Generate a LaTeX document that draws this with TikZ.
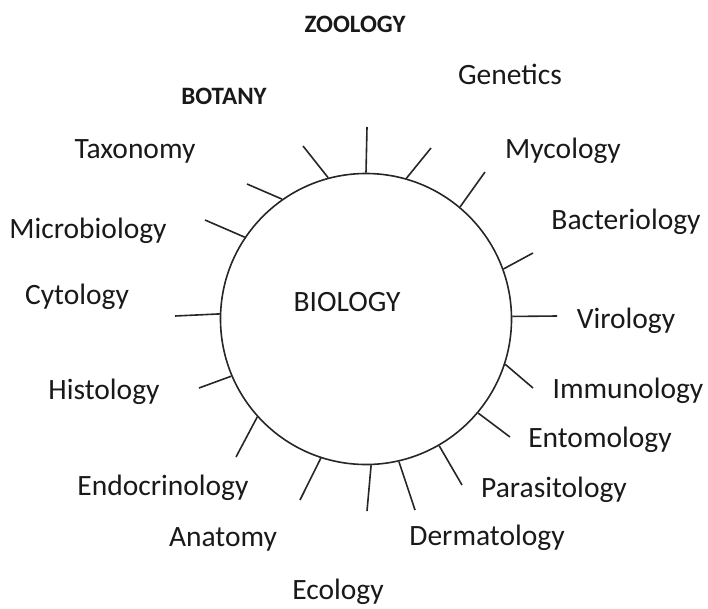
\documentclass[tikz,border=0pt]{standalone}
\usepackage{fontspec}
\setmainfont{Carlito}
\begin{document}
\begin{tikzpicture}[x=1pt,y=-1pt,
  lbl/.style={inner sep=0pt,font=\fontsize{29.5}{32}\selectfont,text=black!90},
  hdr/.style={inner sep=0pt,font=\fontsize{25}{28}\selectfont\bfseries,text=black!90},
  tick/.style={line width=1.6pt,black!85}]
\useasboundingbox (0,0) rectangle (708,608);
\node[circle,draw,line width=1.6pt,black!85,minimum size=291pt,inner sep=0pt] (bio) at (366,319) {};
\node[lbl] (biot) at (347,302) {BIOLOGY};
% outer ends of ticks
\coordinate (t1) at (367,127);
\coordinate (t2) at (431,148);
\coordinate (t3) at (485,172);
\coordinate (t4) at (533,253);
\coordinate (t5) at (557,316);
\coordinate (t6) at (533,388);
\coordinate (t7) at (510,437);
\coordinate (t8) at (462,485);
\coordinate (t9) at (415,510);
\coordinate (t10) at (367,511);
\coordinate (t11) at (300,500);
\coordinate (t12) at (236,457);
\coordinate (t13) at (199,388);
\coordinate (t14) at (175,316);
\coordinate (t15) at (205,220);
\coordinate (t16) at (247,184);
\coordinate (t17) at (303,146);
\draw[tick] (bio.90) -- (t1);
\draw[tick] (bio.74.2) -- (t2);
\draw[tick] (bio.50.6) -- (t3);
\draw[tick] (bio.20.5) -- (t4);
\draw[tick] (bio.1.2) -- (t5);
\draw[tick] (bio.-18.6) -- (t6);
\draw[tick] (bio.-40) -- (t7);
\draw[tick] (bio.-60.8) -- (t8);
\draw[tick] (bio.-77.5) -- (t9);
\draw[tick] (bio.-88.8) -- (t10);
\draw[tick] (bio.-108.4) -- (t11);
\draw[tick] (bio.-138.3) -- (t12);
\draw[tick] (bio.-157.2) -- (t13);
\draw[tick] (bio.178.8) -- (t14);
\draw[tick] (bio.146) -- (t15);
\draw[tick] (bio.125.5) -- (t16);
\draw[tick] (bio.105) -- (t17);
% labels
\node[hdr] (zoo) at (355,24) {ZOOLOGY};
\node[hdr] (bot) at (224,96) {BOTANY};
\node[lbl] (gen) at (510,74) {Genetics};
\node[lbl] (tax) at (135,151) {Taxonomy};
\node[lbl] (myc) at (563,151) {Mycology};
\node[lbl] (mic) at (88,231) {Microbiology};
\node[lbl] (bac) at (626,222) {Bacteriology};
\node[lbl] (cyt) at (77,297) {Cytology};
\node[lbl] (vir) at (626,321) {Virology};
\node[lbl] (his) at (104,392) {Histology};
\node[lbl] (imm) at (628,391) {Immunology};
\node[lbl] (ent) at (600,440) {Entomology};
\node[lbl] (end) at (163,488) {Endocrinology};
\node[lbl] (par) at (554,490) {Parasitology};
\node[lbl] (ana) at (223,539) {Anatomy};
\node[lbl] (der) at (487,538) {Dermatology};
\node[lbl] (eco) at (338,592) {Ecology};
\end{tikzpicture}
\end{document}
